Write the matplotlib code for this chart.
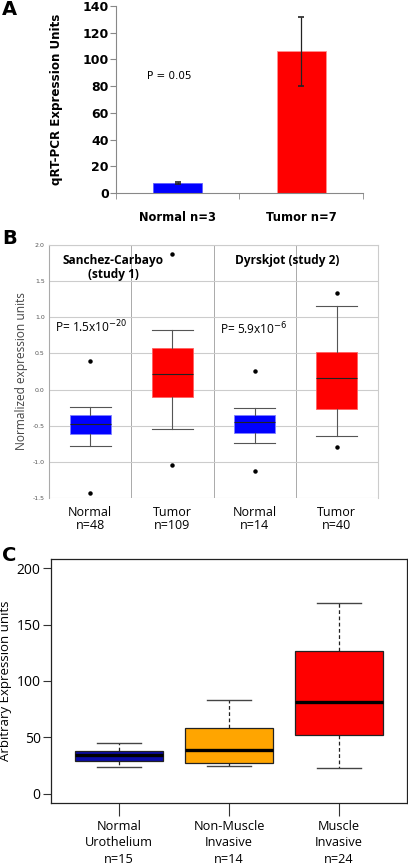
import matplotlib
matplotlib.use("Agg")
import matplotlib.pyplot as plt
import numpy as np

# ---- Panel A data ----
a_groups = ["Normal n=3", "Tumor n=7"]
a_means = [7.5, 106.0]
a_errors = [0.6, 26.0]
a_colors = ["#0000ff", "#ff0000"]
a_pvalue = "P = 0.05"

# ---- Panel B data ----
b_labels = ["Normal\nn=48", "Tumor\nn=109", "Normal\nn=14", "Tumor\nn=40"]
b_whislo = [-0.78, -0.54, -0.74, -0.645]
b_q1 = [-0.62, -0.106, -0.60, -0.27]
b_med = [-0.47, 0.21, -0.45, 0.157]
b_q3 = [-0.355, 0.57, -0.35, 0.52]
b_whishi = [-0.235, 0.82, -0.26, 1.15]
b_fliers = [[0.40, -1.43], [1.875, -1.046], [0.26, -1.12], [1.34, -0.79]]
b_colors = ["#0000ff", "#ff0000", "#0000ff", "#ff0000"]
b_studies = ["Sanchez-Carbayo\n(study 1)", "Dyrskjot (study 2)"]
b_pvalues = [r"P= 1.5x10$^{-20}$", r"P= 5.9x10$^{-6}$"]

# ---- Panel C data ----
c_labels = ["Normal\nUrothelium\nn=15", "Non-Muscle\nInvasive\nn=14", "Muscle\nInvasive\nn=24"]
c_whislo = [24.3, 25.1, 23.4]
c_q1 = [29.6, 27.5, 51.8]
c_med = [34.3, 39.3, 81.7]
c_q3 = [38.2, 58.3, 126.6]
c_whishi = [44.7, 82.8, 168.6]
c_colors = ["#0a0aa8", "#ffa500", "#ff0000"]

fig = plt.figure(figsize=(4.08, 8.68), dpi=100)

# ================= Panel A =================
axA = fig.add_axes([0.284, 0.7776, 0.606, 0.2154])
xa = np.arange(len(a_groups))
axA.bar(xa, a_means, width=0.4, color=a_colors, edgecolor=["#6060ff", "#ff9090"], linewidth=0.6)
axA.errorbar(xa, a_means, yerr=a_errors, fmt="none", ecolor="#222222", elinewidth=0.9, capsize=2.5, capthick=1.2)
axA.set_xlim(-0.5, 1.5)
axA.set_ylim(0, 140)
axA.set_yticks(np.arange(0, 141, 20))
axA.set_xticks(xa)
axA.set_xticklabels(a_groups, fontsize=8.3, fontweight="bold")
axA.set_xticks([-0.5, 0.5, 1.5], minor=True)
axA.tick_params(axis="x", which="major", length=0, pad=13)
axA.tick_params(axis="x", which="minor", length=4, direction="out", color="#888888")
axA.tick_params(axis="y", length=4, direction="out", color="#888888", labelsize=9, pad=1)
for lab in axA.get_yticklabels():
    lab.set_fontweight("bold")
for s in ["top", "right"]:
    axA.spines[s].set_visible(False)
for s in ["left", "bottom"]:
    axA.spines[s].set_color("#888888")
axA.set_ylabel("qRT-PCR Expression Units", fontsize=8.6, fontweight="bold")
axA.yaxis.set_label_coords(-0.215, 0.5)
axA.text(-0.25, 88, a_pvalue, fontsize=7.5, ha="left", va="center")
fig.text(0.005, 0.9885, "A", fontsize=14, fontweight="bold", va="center")

# ================= Panel B =================
bfont = "Open Sans"
axB = fig.add_axes([0.1201, 0.4263, 0.8064, 0.2915])
b_stats = []
for i in range(len(b_labels)):
    b_stats.append(dict(whislo=b_whislo[i], q1=b_q1[i], med=b_med[i], q3=b_q3[i],
                        whishi=b_whishi[i], fliers=b_fliers[i]))
xb = np.arange(1, len(b_labels) + 1)
bpB = axB.bxp(b_stats, positions=xb, widths=0.5, patch_artist=True, showfliers=True,
              boxprops=dict(linewidth=0.6),
              whiskerprops=dict(color="#555555", linewidth=0.8),
              capprops=dict(color="#555555", linewidth=0.8),
              medianprops=dict(color="#222222", linewidth=0.8),
              flierprops=dict(marker="o", markersize=2.2, markerfacecolor="black",
                              markeredgecolor="black"))
for patch, col in zip(bpB["boxes"], b_colors):
    patch.set_facecolor(col)
    patch.set_edgecolor("#8080ff" if col == "#0000ff" else "#ff6060")
for cap, w in zip(bpB["caps"], np.repeat(xb, 2)):
    cap.set_xdata([w - 0.25, w + 0.25])
axB.set_xlim(0.5, 4.5)
axB.set_ylim(-1.5, 2.0)
axB.set_yticks(np.arange(-1.5, 2.01, 0.5))
axB.set_yticklabels([f"{v:.1f}" for v in np.arange(-1.5, 2.01, 0.5)], fontsize=4.5, color="#555555")
axB.tick_params(axis="y", length=0, pad=3)
axB.set_xticks(xb)
axB.set_xticklabels(b_labels, fontsize=9, family=bfont, linespacing=1.0)
axB.tick_params(axis="x", length=0, pad=6)
axB.set_axisbelow(True)
axB.grid(axis="y", color="#cccccc", linewidth=0.8)
for xv in [1.5, 2.5, 3.5]:
    axB.axvline(xv, color="#aaaaaa", linewidth=0.7, zorder=0)
axB.spines["bottom"].set_visible(False)
for s in ["top", "right", "left"]:
    axB.spines[s].set_color("#cccccc")
    axB.spines[s].set_linewidth(0.8)
axB.spines["left"].set_color("#aaaaaa")
axB.set_ylabel("Normalized expression units", fontsize=8.6, family=bfont, color="#444444")
axB.yaxis.set_label_coords(-0.064, 0.5)
axB.text(1.28, 1.88, b_studies[0], fontsize=8.6, family=bfont, fontweight="bold",
         ha="center", va="top", linespacing=1.1)
axB.text(3.40, 1.88, b_studies[1], fontsize=8.6, family=bfont, fontweight="bold",
         ha="center", va="top")
axB.text(0.57, 0.86, b_pvalues[0], fontsize=8.6, family=bfont, ha="left", va="center")
axB.text(2.58, 0.84, b_pvalues[1], fontsize=8.6, family=bfont, ha="left", va="center")
fig.text(0.005, 0.725, "B", fontsize=14, fontweight="bold", va="center")

# ================= Panel C =================
axC = fig.add_axes([0.125, 0.0749, 0.8725, 0.2811])
c_stats = []
for i in range(len(c_labels)):
    c_stats.append(dict(whislo=c_whislo[i], q1=c_q1[i], med=c_med[i], q3=c_q3[i],
                        whishi=c_whishi[i], fliers=[]))
xc = np.arange(1, len(c_labels) + 1)
bpC = axC.bxp(c_stats, positions=xc, widths=0.8, patch_artist=True, showfliers=False,
              boxprops=dict(linewidth=0.9, edgecolor="#222222"),
              whiskerprops=dict(color="#222222", linewidth=0.9, linestyle=(0, (3, 2))),
              capprops=dict(color="#444444", linewidth=1.0),
              medianprops=dict(color="black", linewidth=2.4))
for patch, col in zip(bpC["boxes"], c_colors):
    patch.set_facecolor(col)
for cap, w in zip(bpC["caps"], np.repeat(xc, 2)):
    cap.set_xdata([w - 0.2, w + 0.2])
axC.set_xlim(0.38, 3.62)
axC.set_ylim(-8, 208)
axC.set_yticks([0, 50, 100, 150, 200])
axC.set_xticks(xc)
axC.set_xticklabels(c_labels, fontsize=9.2, family=bfont, linespacing=1.35)
axC.tick_params(axis="x", length=9, direction="out", pad=3, color="#333333")
axC.tick_params(axis="y", length=6, direction="out", pad=1.5, labelsize=10, color="#333333")
for lab in axC.get_yticklabels():
    lab.set_family(bfont)
for s in axC.spines.values():
    s.set_color("#222222")
    s.set_linewidth(0.9)
axC.set_ylabel("Arbitrary Expression units", fontsize=9.5, family=bfont)
axC.yaxis.set_label_coords(-0.11, 0.5)
fig.text(0.005, 0.36, "C", fontsize=14, fontweight="bold", va="center")

fig.savefig("out.png", dpi=100)
